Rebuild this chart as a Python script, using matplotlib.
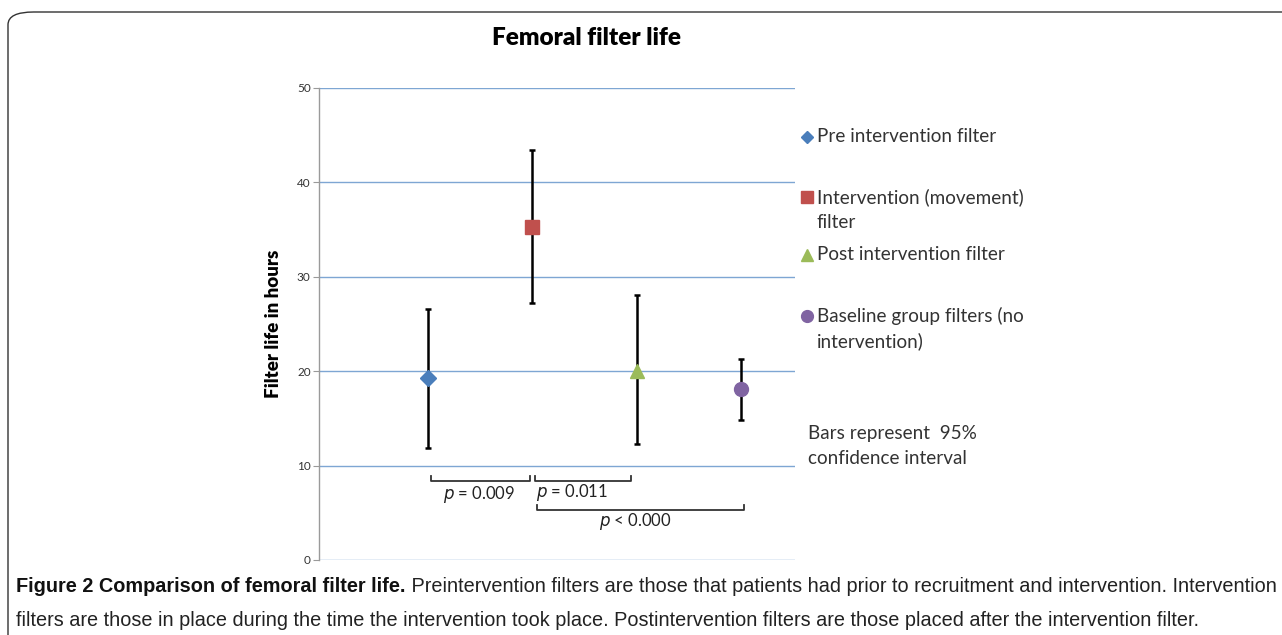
import matplotlib
matplotlib.use("Agg")
import matplotlib.pyplot as plt
from matplotlib.patches import FancyBboxPatch
from matplotlib.lines import Line2D
from matplotlib import font_manager

W, H = 1282, 635
DPI = 100

categories = ["Pre intervention filter", "Intervention (movement)\nfilter",
              "Post intervention filter", "Baseline group filters (no\nintervention)"]
means = [19.3, 35.3, 20.05, 18.1]
ci_low = [11.9, 27.2, 12.3, 14.8]
ci_high = [26.55, 43.4, 28.1, 21.3]
markers = ["D", "s", "^", "o"]
colors = ["#4a7ebb", "#c0504d", "#9bbb59", "#8064a2"]
yticks = [0, 10, 20, 30, 40, 50]

# significance brackets: (x_start, x_end, y, label, label_x, label_y)
brackets = [
    (1.03, 1.98, 8.4, "= 0.009", 1.49, 6.9),
    (2.03, 2.95, 8.4, "= 0.011", 2.38, 7.2),
    (2.05, 4.03, 5.3, "< 0.000", 2.99, 4.05),
]

names = {f.name for f in font_manager.fontManager.ttflist}
chart_font = "Lato" if "Lato" in names else "DejaVu Sans"
cap_font = "Liberation Sans"

fig = plt.figure(figsize=(W / DPI, H / DPI), dpi=DPI)
fig.patch.set_facecolor("white")

def fx(px):
    return px / W

def fy(py):
    return 1 - py / H

# outer rounded frame
frame = FancyBboxPatch((fx(8), fy(680)), fx(1340) - fx(8), fy(12) - fy(680),
                       boxstyle="round,pad=0,rounding_size=0.02",
                       transform=fig.transFigure, fill=False, edgecolor="#333333",
                       linewidth=1.0, clip_on=False)
fig.patches.append(frame)

ax = fig.add_axes([fx(319), fy(560), fx(795) - fx(319), fy(88) - fy(560)])
ax.set_xlim(-0.045, 4.52)
ax.set_ylim(0, 50)
ax.set_yticks(yticks)
ax.set_yticklabels([str(t) for t in yticks], fontsize=8.5, color="#333333", family=chart_font)
ax.set_xticks([])
for t in yticks:
    ax.axhline(t, color="#7ea6d3", linewidth=1.0, zorder=0)
for s in ["top", "right", "bottom"]:
    ax.spines[s].set_visible(False)
ax.spines["left"].set_color("#9a9a9a")
ax.spines["left"].set_linewidth(1.0)
ax.tick_params(axis="y", length=4, color="#9a9a9a", pad=2)
ax.set_ylabel("Filter life in hours", fontsize=13.5, fontweight="heavy",
              family=chart_font)
ax.yaxis.set_label_coords((282 - 319) / 476, 0.5)
ax.set_facecolor("none")

xs = [1, 2, 3, 4]
for x, m, lo, hi, mk, c in zip(xs, means, ci_low, ci_high, markers, colors):
    ax.errorbar([x], [m], yerr=[[m - lo], [hi - m]], fmt="none", ecolor="black",
                elinewidth=1.8, capsize=2.3, capthick=1.8, zorder=2)
    size = {"D": 8.5, "s": 9.5, "^": 10.5, "o": 10}[mk]
    ax.plot([x], [m], marker=mk, color=c, markersize=size, linestyle="none", zorder=3)

for x0, x1, y, lab, lx, ly in brackets:
    ax.plot([x0, x0, x1, x1], [y + 0.5, y, y, y + 0.5], color="#333333",
            linewidth=1.3, zorder=2, clip_on=False)
    ax.text(lx, ly, r"$\it{p}$ " + lab, ha="center", va="center", fontsize=12,
            family=chart_font, color="#222222")

# title
fig.text(fx(587), fy(38), "Femoral filter life", ha="center", va="center",
         fontsize=17.5, fontweight="heavy", family=chart_font)

# legend (manual, Excel-like)
leg_rows = [137, 197, 255, 316]
line_gap = 25
for lab, mk, c, row in zip(categories, markers, colors, leg_rows):
    size = {"D": 6.5, "s": 8, "^": 8, "o": 8.5}[mk]
    fig.lines.append(Line2D([fx(807)], [fy(row)], marker=mk, color=c, markersize=size,
                            linestyle="none", transform=fig.transFigure))
    for i, part in enumerate(lab.split("\n")):
        fig.text(fx(817), fy(row + i * line_gap), part, ha="left", va="center",
                 fontsize=13.6, family=chart_font, color="#333333")

for i, part in enumerate(["Bars represent  95%", "confidence interval"]):
    fig.text(fx(808), fy(434 + i * line_gap), part, ha="left", va="center",
             fontsize=13.6, family=chart_font, color="#333333")

# caption
cap_bold = "Figure 2 Comparison of femoral filter life."
cap_rest1 = " Preintervention filters are those that patients had prior to recruitment and intervention. Intervention"
cap_rest2 = "filters are those in place during the time the intervention took place. Postintervention filters are those placed after the intervention filter."
cap_size = 13.5
t1 = fig.text(fx(16), fy(587), cap_bold, ha="left", va="center", fontsize=cap_size,
              fontweight="bold", family=cap_font, color="#111111")
t2 = fig.text(0, fy(587), cap_rest1, ha="left", va="center", fontsize=cap_size,
              family=cap_font, color="#222222")
fig.canvas.draw()
r = fig.canvas.get_renderer()
w_total = t1.get_window_extent(r).width + t2.get_window_extent(r).width
cap_size = cap_size * (1255 / w_total)
t1.set_fontsize(cap_size)
t2.set_fontsize(cap_size)
fig.canvas.draw()
bb = t1.get_window_extent(r)
t2.set_x(bb.x1 / W)
fig.text(fx(16), fy(620), cap_rest2, ha="left", va="center", fontsize=cap_size,
         family=cap_font, color="#222222")

fig.savefig("out.png", dpi=DPI, facecolor="white")
